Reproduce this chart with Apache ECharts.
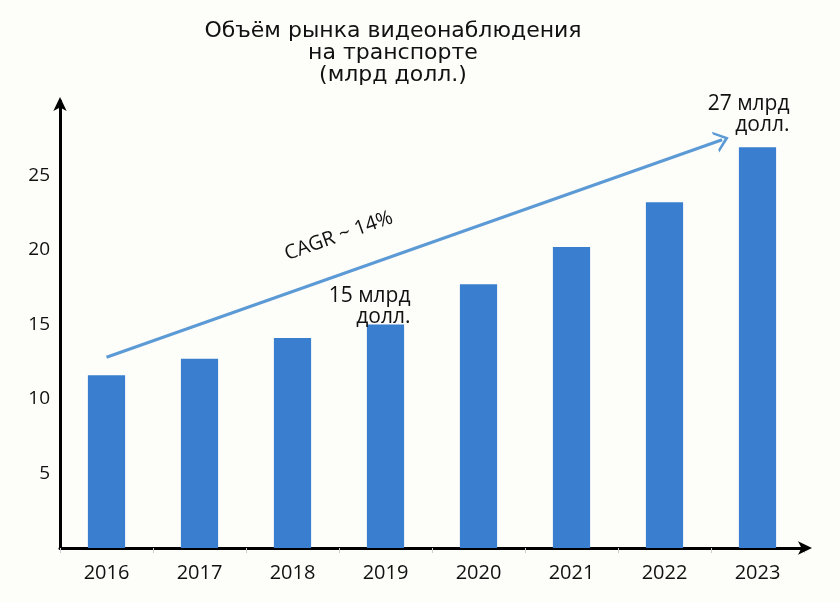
<!DOCTYPE html>
<html><head><meta charset="utf-8">
<script src="https://cdn.jsdelivr.net/npm/echarts@6/dist/echarts.min.js"></script>
<style>html,body{margin:0;padding:0;background:#fdfdfa;}#c{width:840px;height:602px;}</style>
</head><body><div id="c"></div>
<script>
const years = ['2016','2017','2018','2019','2020','2021','2022','2023'];
const values = [11.6, 12.7, 14.1, 15.0, 17.7, 20.2, 23.2, 26.9];
const yTicks = [5, 10, 15, 20, 25];
const titleText = 'Объём рынка видеонаблюдения\nна транспорте\n(млрд долл.)';
const cagrText = 'CAGR ~ 14%';
const arrowStart = [0, 12.8];
const arrowEnd = [6.62, 27.4];
const noteLabels = {3: '15 млрд\nдолл.', 7: '27 млрд\nдолл.'};

const FONT = 'Open Sans';
const chart = echarts.init(document.getElementById('c'), null, {renderer: 'canvas'});
const barData = values.map((v, i) => {
  const item = {value: v};
  if (noteLabels[i]) {
    item.label = {
      show: true, position: 'top', formatter: noteLabels[i], align: 'right',
      offset: i === 3 ? [25, 3] : [32, -12], distance: 0,
      color: '#111', fontSize: 21, lineHeight: 21, fontFamily: FONT
    };
  }
  return item;
});
chart.setOption({
  backgroundColor: '#fdfdfa',
  animation: false,
  title: {
    text: titleText, left: 388, top: 15, textAlign: 'center',
    textStyle: {fontFamily: 'DejaVu Sans', fontSize: 22, fontWeight: 'normal', color: '#111', lineHeight: 22}
  },
  grid: {left: 60, right: 36, top: 101, bottom: 54},
  xAxis: [{
    type: 'category', data: years,
    axisLine: {lineStyle: {color: '#000', width: 3}, symbol: ['none', 'arrow'], symbolSize: [10, 14], symbolOffset: [0, 8]},
    axisTick: {show: true, length: 5, lineStyle: {color: '#ccc'}},
    axisLabel: {color: '#111', fontSize: 20, fontFamily: FONT, margin: 15}
  }, {
    type: 'value', min: -0.5, max: 7.5, show: false
  }],
  yAxis: {
    type: 'value', min: 0, max: 30, interval: 5,
    axisLine: {show: true, onZero: false, lineStyle: {color: '#000', width: 3}, symbol: ['none', 'arrow'], symbolSize: [10, 14], symbolOffset: [0, 4]},
    axisTick: {show: false},
    splitLine: {show: false},
    axisLabel: {color: '#111', fontSize: 19, fontFamily: FONT, margin: 10,
      formatter: v => yTicks.includes(v) ? String(v) : ''}
  },
  series: [{
    type: 'bar', data: barData, barWidth: '40%',
    itemStyle: {color: '#3a7fcf'}
  }, {
    type: 'line', xAxisIndex: 1, data: [], silent: true,
    markLine: {
      silent: true, symbol: ['none', 'path://M0,16 L11,0 L22,16 L19,16 L11,5 L3,16 Z'], symbolSize: [22, 14],
      lineStyle: {color: '#5c9ad6', width: 3, type: 'solid'},
      label: {show: true, position: 'insideMiddleTop', formatter: cagrText, color: '#111',
        fontSize: 20, fontFamily: FONT, padding: [0, 134, 22, 0]},
      data: [[{coord: arrowStart}, {coord: arrowEnd}]]
    }
  }]
});
</script></body></html>
